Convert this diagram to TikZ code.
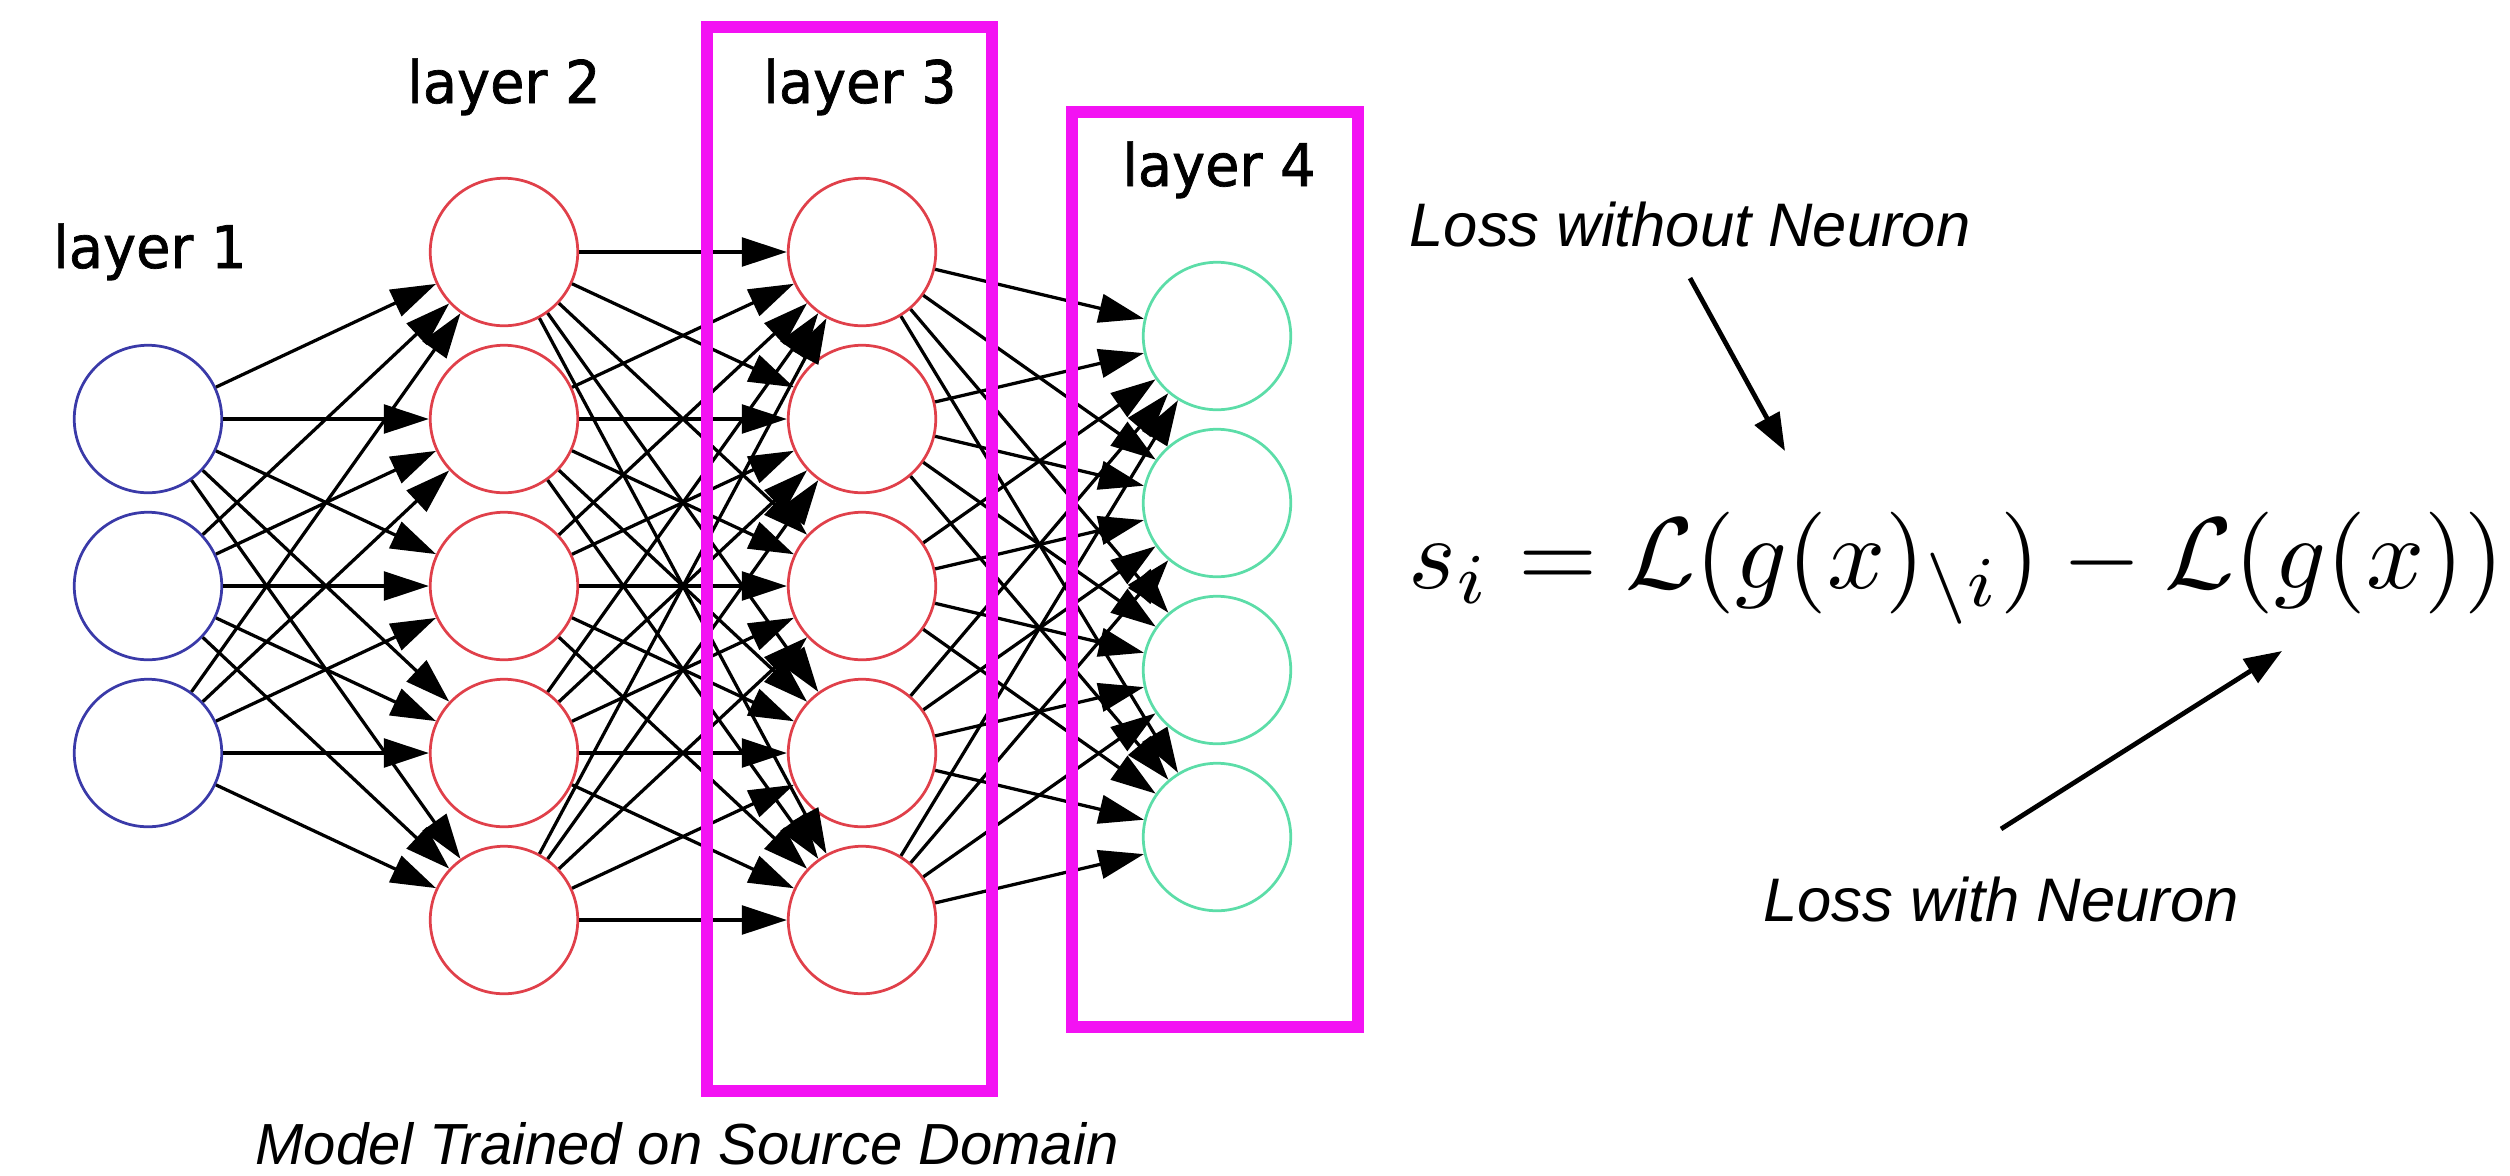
\documentclass[tikz,border=0pt]{standalone}
\usepackage{fontspec}
\usepackage{graphicx}
\usetikzlibrary{arrows.meta}
\newfontfamily\layerfont[FakeBold=1.2,FakeStretch=0.95]{DejaVu Sans}
\newfontfamily\notefont{Liberation Sans}
\definecolor{nblue}{HTML}{3A3AA8}
\definecolor{nred}{HTML}{E0404A}
\definecolor{ngreen}{HTML}{5CDDA8}
\definecolor{boxmag}{HTML}{F312F3}
\begin{document}
\begin{tikzpicture}[x=0.4pt,y=-0.4pt,
  neuron/.style={circle, draw, fill=white, minimum size=59pt, inner sep=0pt, line width=1.1pt},
  inneuron/.style={neuron, draw=nblue},
  hidneuron/.style={neuron, draw=nred},
  outneuron/.style={neuron, draw=ngreen},
  synapse/.style={-{Triangle[length=18pt,width=11.5pt]}, line width=1.3pt, draw=black},
  layerlabel/.style={font=\layerfont\fontsize{23.5}{28}\selectfont, anchor=base, inner sep=0pt},
  note/.style={font=\notefont\itshape\fontsize{24.6}{30}\selectfont, anchor=base, inner sep=0pt},
  caption/.style={font=\notefont\itshape\fontsize{23.2}{28}\selectfont, anchor=base, inner sep=0pt},
  pointer/.style={-{Triangle[length=15pt,width=11pt]}, line width=1.9pt},
  framebox/.style={draw=boxmag, line width=5pt}]
\useasboundingbox (0,0) rectangle (2510,1175);
% neurons
\foreach \i/\y in {1/419,2/586,3/753} \node[inneuron] (a\i) at (148,\y) {};
\foreach \i/\y in {1/252,2/419,3/586,4/753,5/920} \node[hidneuron] (b\i) at (504,\y) {};
\foreach \i/\y in {1/252,2/419,3/586,4/753,5/920} \node[hidneuron] (c\i) at (862,\y) {};
\foreach \i/\y in {1/336,2/503,3/670,4/837} \node[outneuron] (d\i) at (1217,\y) {};
% connections
\foreach \i in {1,...,3} \foreach \j in {1,...,5} \draw[synapse] (a\i) -- (b\j);
\foreach \i in {1,...,5} \foreach \j in {1,...,5} \draw[synapse] (b\i) -- (c\j);
\foreach \i in {1,...,5} \foreach \j in {1,...,4} \draw[synapse] (c\i) -- (d\j);
% frames
\draw[framebox] (707,27) rectangle (992,1091);
\draw[framebox] (1072,112) rectangle (1358,1027);
% labels
\node[layerlabel] (l1) at (150,268) {layer 1};
\node[layerlabel] (l2) at (504,103) {layer 2};
\node[layerlabel] (l3) at (860,103) {layer 3};
\node[layerlabel] (l4) at (1219,186) {layer 4};
\node[caption] (cap) at (687,1164) {Model Trained on Source Domain};
% formula and notes
\node[anchor=base, inner sep=0pt] (score) at (1956,588)
  {\resizebox{438pt}{!}{$\displaystyle s_i = \mathcal{L}(g(x)_{\setminus i}) - \mathcal{L}(g(x))$}};
\node[note] (lossout) at (1690,246) {Loss without Neuron};
\node[note] (losswith) at (2001,921) {Loss with Neuron};
\coordinate (tipout) at (1785,451);
\coordinate (tipwith) at (2282,651);
\draw[pointer] ([yshift=-12.4pt]lossout.south) -- (tipout);
\draw[pointer] ([yshift=18.8pt]losswith.north) -- (tipwith);
\end{tikzpicture}
\end{document}
